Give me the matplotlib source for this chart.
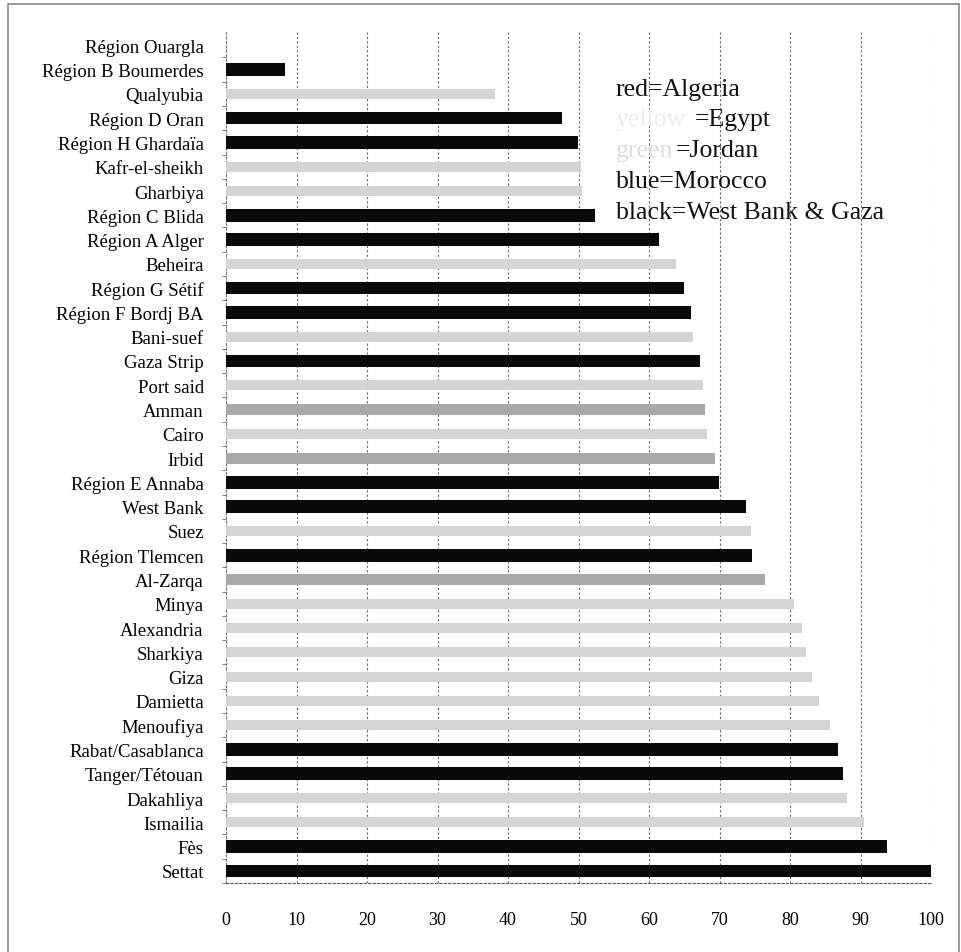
import matplotlib
matplotlib.use("Agg")
import matplotlib.pyplot as plt
from matplotlib.patches import Rectangle

# regions listed top to bottom
regions = [
    "Région Ouargla", "Région B Boumerdes", "Qualyubia", "Région D Oran",
    "Région H Ghardaïa", "Kafr-el-sheikh", "Gharbiya", "Région C Blida",
    "Région A Alger", "Beheira", "Région G Sétif", "Région F Bordj BA",
    "Bani-suef", "Gaza Strip", "Port said", "Amman", "Cairo", "Irbid",
    "Région E Annaba", "West Bank", "Suez", "Région Tlemcen", "Al-Zarqa",
    "Minya", "Alexandria", "Sharkiya", "Giza", "Damietta", "Menoufiya",
    "Rabat/Casablanca", "Tanger/Tétouan", "Dakahliya", "Ismailia", "Fès",
    "Settat",
]
values = [
    0, 8.4, 38.2, 47.7, 49.9, 50.3, 50.5, 52.4, 61.4, 63.8, 64.9, 65.9,
    66.2, 67.3, 67.6, 67.9, 68.2, 69.3, 69.9, 73.7, 74.4, 74.6, 76.4,
    80.5, 81.7, 82.2, 83.1, 84.1, 85.7, 86.8, 87.5, 88.1, 90.5, 93.8, 100,
]
countries = [
    "Algeria", "Algeria", "Egypt", "Algeria", "Algeria", "Egypt", "Egypt",
    "Algeria", "Algeria", "Egypt", "Algeria", "Algeria", "Egypt", "WBG",
    "Egypt", "Jordan", "Egypt", "Jordan", "Algeria", "WBG", "Egypt",
    "Algeria", "Jordan", "Egypt", "Egypt", "Egypt", "Egypt", "Egypt",
    "Egypt", "Morocco", "Morocco", "Egypt", "Egypt", "Morocco", "Morocco",
]
x_ticks = [0, 10, 20, 30, 40, 50, 60, 70, 80, 90, 100]

shade = {"Algeria": "#0a0a0a", "Morocco": "#0a0a0a", "WBG": "#0a0a0a",
         "Egypt": "#d4d4d4", "Jordan": "#a9a9a9"}
height = {"Algeria": 0.52, "Morocco": 0.52, "WBG": 0.52,
          "Egypt": 0.42, "Jordan": 0.45}

plt.rcParams["font.family"] = ["Liberation Serif", "DejaVu Serif"]

fig = plt.figure(figsize=(9.61, 9.53), dpi=100)
ax = fig.add_axes([0.2352, 0.0724, 0.7336, 0.893])

n = len(regions)
ypos = [n - 1 - i for i in range(n)]
for y, v, c in zip(ypos, values, countries):
    ax.barh(y, v, height=height[c], color=shade[c], zorder=3)

ax.set_xlim(0, 100)
ax.set_ylim(-0.5, n - 0.45)
ax.set_yticks(ypos)
ax.set_yticklabels(regions, fontsize=13.5)
ax.set_xticks(x_ticks)
ax.set_xticklabels([str(t) for t in x_ticks], fontsize=13)
ax.tick_params(axis="y", length=0, pad=16)
ax.tick_params(axis="x", length=0, pad=20)
ax.set_yticks([y + 0.5 for y in ypos[1:]] + [-0.5], minor=True)
ax.tick_params(axis="y", which="minor", length=3, width=0.6, color="#666666")

for s in ax.spines.values():
    s.set_visible(False)
ax.spines["left"].set_visible(True)
ax.spines["left"].set_linestyle((0, (2, 2)))
ax.spines["left"].set_color("#777777")
ax.spines["bottom"].set_visible(True)
ax.spines["bottom"].set_linestyle((0, (2, 2)))
ax.spines["bottom"].set_color("#555555")

for t in x_ticks[1:]:
    ax.axvline(t, color="#666666", lw=0.8, ls=(0, (2, 2)), zorder=1)

# colour key written as text lines
kx = 0.553
fs = 18.5
ax.text(kx, 0.926, "red=Algeria", transform=ax.transAxes, fontsize=fs,
        color="#111111")
ax.text(kx, 0.891, "yellow", transform=ax.transAxes, fontsize=fs,
        color="#ececec")
ax.text(kx + 0.112, 0.891, "=Egypt", transform=ax.transAxes, fontsize=fs,
        color="#111111")
ax.text(kx, 0.854, "green", transform=ax.transAxes, fontsize=fs,
        color="#dddddd")
ax.text(kx + 0.085, 0.854, "=Jordan", transform=ax.transAxes, fontsize=fs,
        color="#111111")
ax.text(kx, 0.818, "blue=Morocco", transform=ax.transAxes, fontsize=fs,
        color="#111111")
ax.text(kx, 0.781, "black=West Bank & Gaza", transform=ax.transAxes,
        fontsize=fs, color="#111111")

fig.patches.append(Rectangle((0.008, -0.01), 0.99, 1.005, transform=fig.transFigure,
                             fill=False, edgecolor="#888888", lw=1.2))

fig.savefig("out.png", dpi=100)
